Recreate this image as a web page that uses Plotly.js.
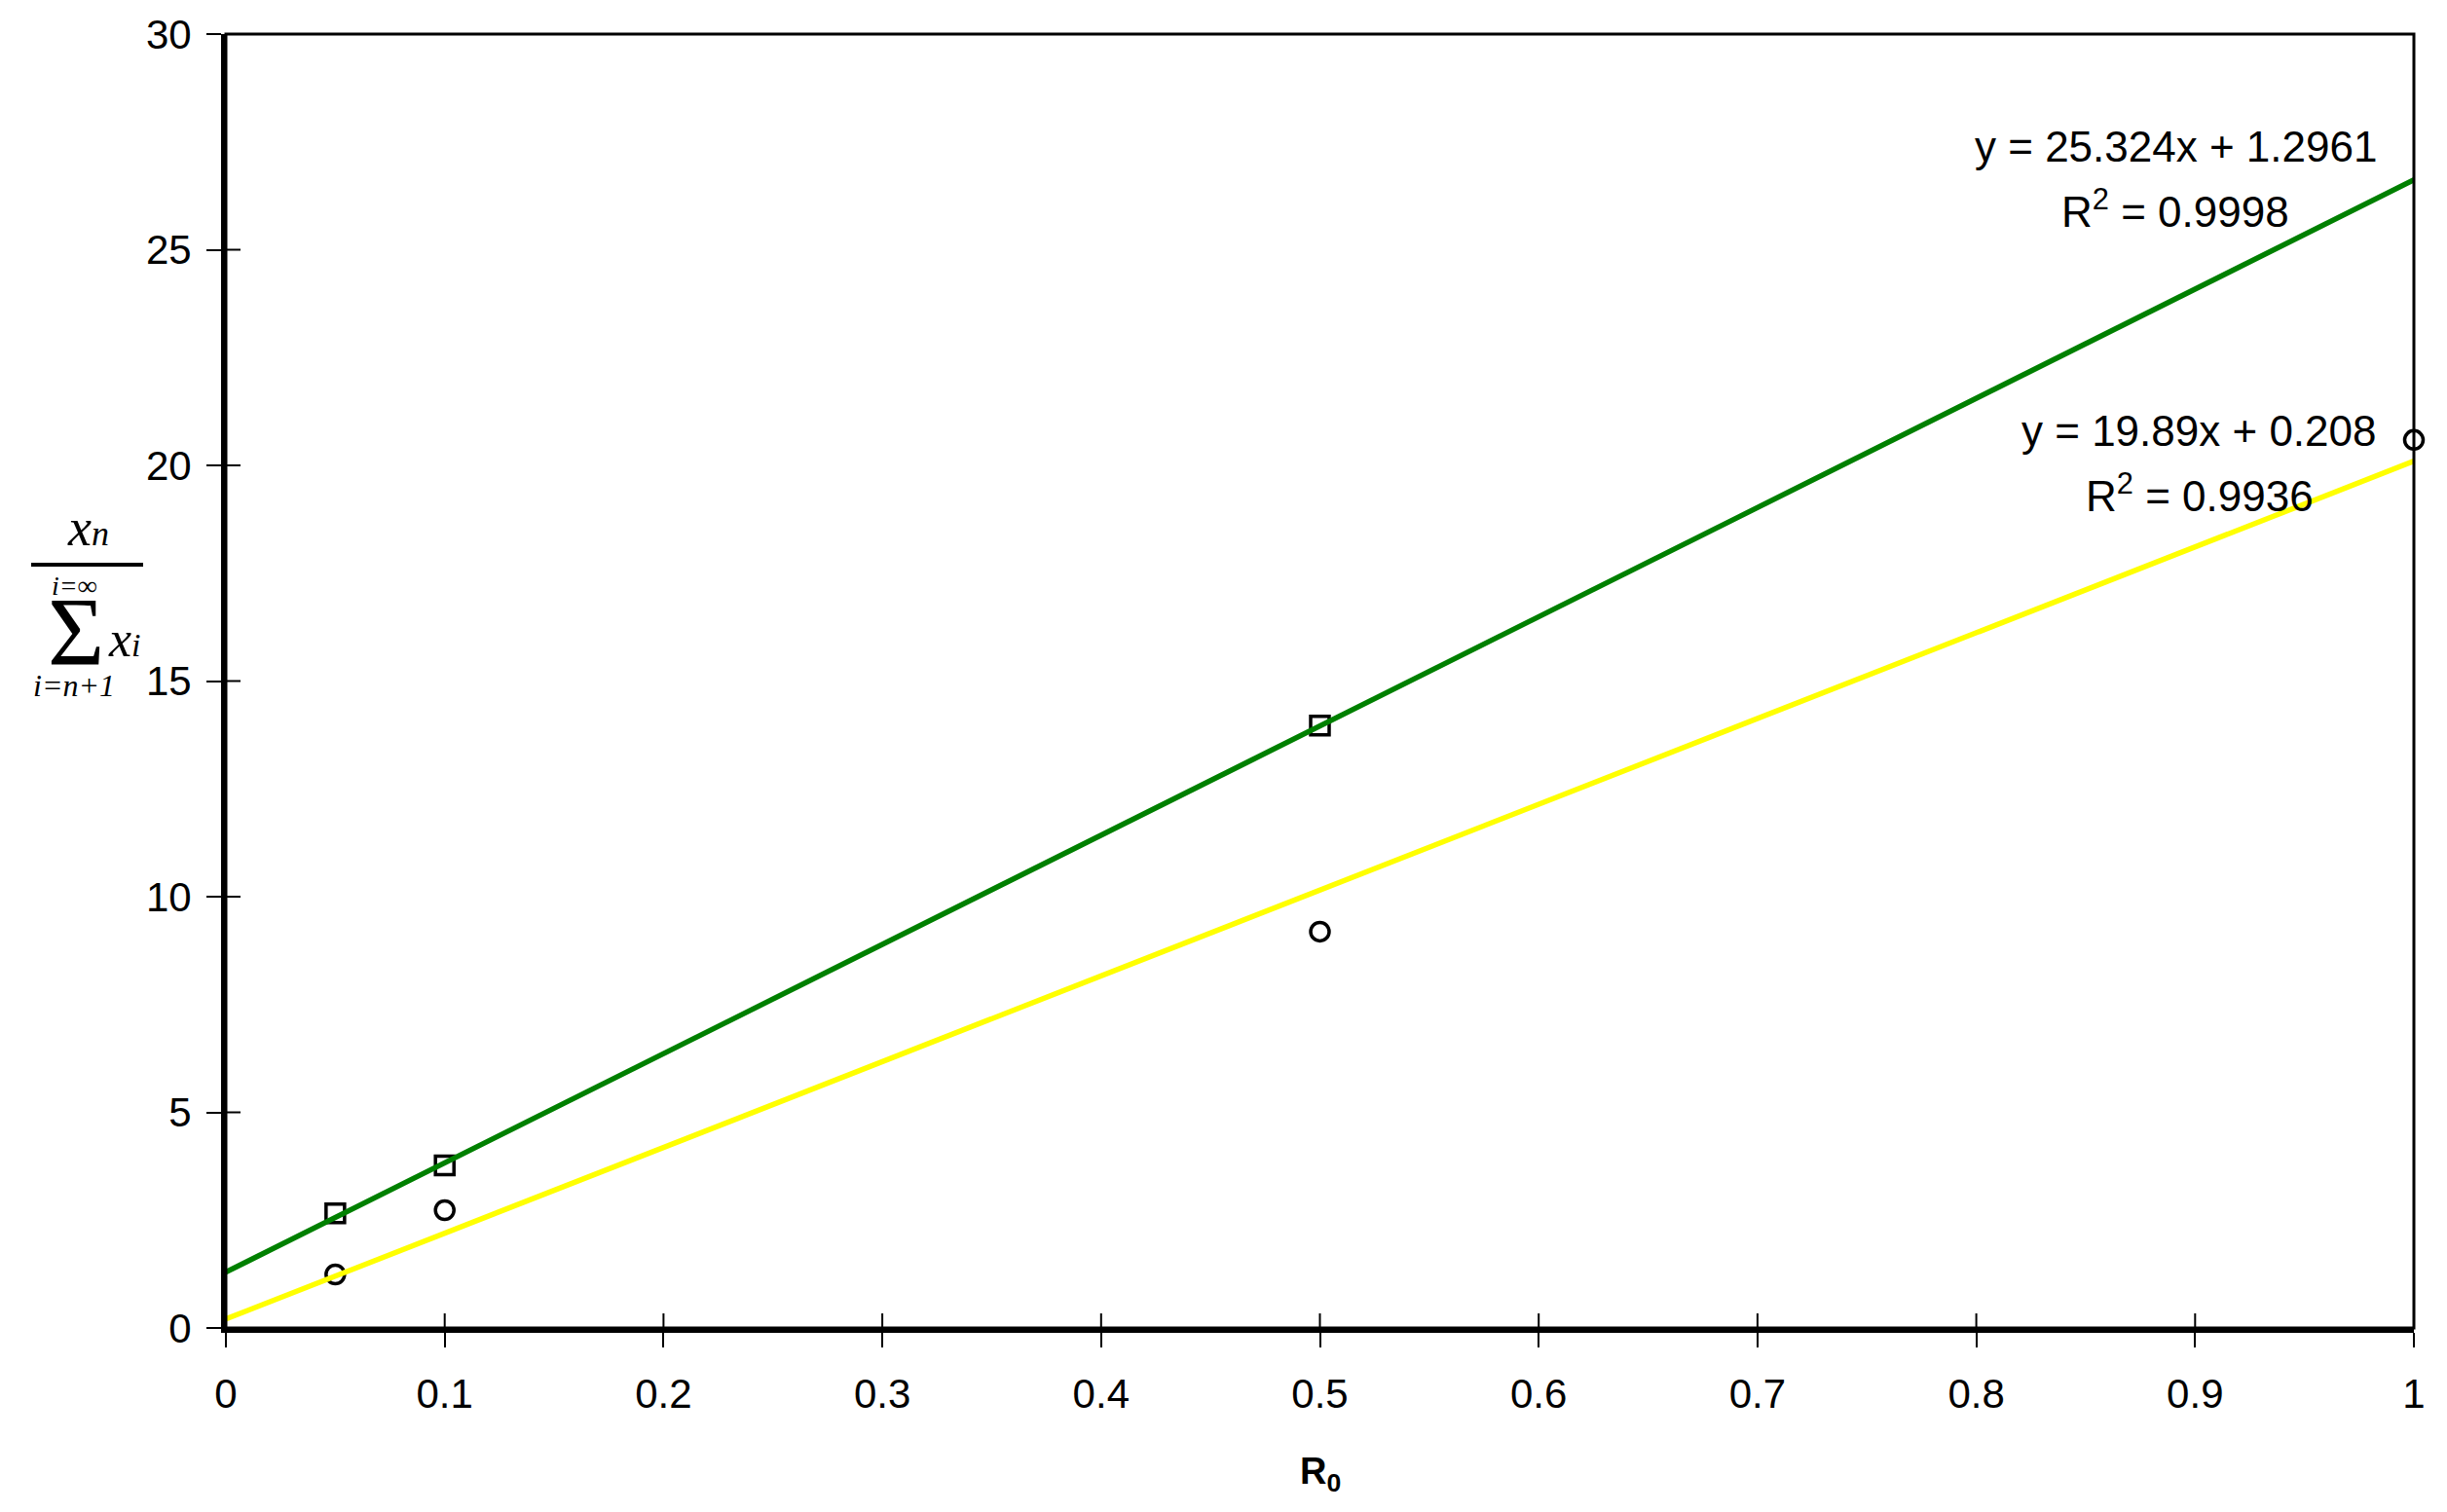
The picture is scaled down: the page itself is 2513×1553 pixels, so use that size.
<!DOCTYPE html>
<html>
<head>
<meta charset="utf-8">
<script src="https://cdn.plot.ly/plotly-3.0.1.min.js"></script>
<style>
  html, body { margin: 0; padding: 0; background: #fff; }
  #chart { width: 2513px; height: 1553px; }
</style>
</head>
<body>
<div id="chart"></div>
<script>
const r0Squares   = [0.05, 0.1, 0.5];
const squareVals  = [2.66, 3.77, 13.97];
const r0Circles   = [0.05, 0.1, 0.5, 1];
const circleVals  = [1.24, 2.73, 9.19, 20.59];

// trendlines as given by the equations on the chart
const fitX            = [0, 1];
const greenSlope      = 25.324;
const greenIntercept  = 1.2961;
const yellowSlope     = 19.89;
const yellowIntercept = 0.208;

const greenEq  = ["y = 25.324x + 1.2961", "R<sup>2</sup> = 0.9998"];
const yellowEq = ["y = 19.89x + 0.208", "R<sup>2</sup> = 0.9936"];

const xTicks = [0, 0.1, 0.2, 0.3, 0.4, 0.5, 0.6, 0.7, 0.8, 0.9, 1];
const yTicks = [0, 5, 10, 15, 20, 25, 30];

const W = 2513, H = 1553;
const M = { l: 232, r: 34, t: 35, b: 189 };
const plotW = W - M.l - M.r, plotH = H - M.t - M.b;
const px = (x) => (x - M.l) / plotW;          // pixel -> paper x
const py = (y) => (H - M.b - y) / plotH;      // pixel -> paper y
const TICK = 15;

const SANS  = "Liberation Sans, Arial, sans-serif";
const SERIF = "Liberation Serif, Times New Roman, serif";

const traces = [
    {
        x: r0Squares, y: squareVals, type: "scatter", mode: "markers",
        marker: { symbol: "square-open", size: 19, color: "#000", line: { width: 3.5 } },
        cliponaxis: false, showlegend: false, hoverinfo: "skip",
    },
    {
        x: r0Circles, y: circleVals, type: "scatter", mode: "markers",
        marker: { symbol: "circle-open", size: 19, color: "#000", line: { width: 3.5 } },
        cliponaxis: false, showlegend: false, hoverinfo: "skip",
    },
    {
        x: fitX, y: fitX.map((x) => greenSlope * x + greenIntercept),
        type: "scatter", mode: "lines",
        line: { color: "#008000", width: 5.5 },
        showlegend: false, hoverinfo: "skip",
    },
    {
        x: fitX, y: fitX.map((x) => yellowSlope * x + yellowIntercept),
        type: "scatter", mode: "lines",
        line: { color: "#ffff00", width: 5.5 },
        showlegend: false, hoverinfo: "skip",
    },
];

const tickFont = { family: SANS, size: 42, color: "#000" };

const axisCommon = {
    showgrid: false, zeroline: false,
    showline: true, linecolor: "#000", linewidth: 5,
    ticks: "outside", ticklen: TICK, tickwidth: 2, tickcolor: "#000",
    tickmode: "array",
    tickfont: tickFont, fixedrange: true,
};

function note(text, x, y, size, opts = {}) {
    return Object.assign({
        xref: "paper", yref: "paper", x: px(x), y: py(y),
        xanchor: "center", yanchor: "middle", showarrow: false,
        text, font: { family: SERIF, size, color: "#000", style: "italic" },
    }, opts);
}

const annotations = [
    // equations
    { xref: "x", yref: "y", x: 0.891, y: 27.40, text: greenEq[0] },
    { xref: "x", yref: "y", x: 0.891, y: 25.94, text: greenEq[1] },
    { xref: "x", yref: "y", x: 0.902, y: 20.81, text: yellowEq[0] },
    { xref: "x", yref: "y", x: 0.902, y: 19.35, text: yellowEq[1] },
].map((a) => Object.assign(a, {
    showarrow: false, xanchor: "center", yanchor: "middle",
    font: { family: SANS, size: 44, color: "#000" },
}));

// x title
annotations.push({
    xref: "x", yref: "paper", x: 0.5, y: py(1514), xanchor: "center", yanchor: "middle",
    showarrow: false, text: "<b>R<sub>0</sub></b>",
    font: { family: SANS, size: 38, color: "#000" },
});

// y title: x_n over sum_{i=n+1}^{i=inf} x_i
annotations.push(
    note('x<span style="font-size:36px">n</span>', 90, 542, 54),
    note("i=∞", 76, 601, 28),
    note("Σ", 78, 648, 100, { font: { family: SERIF, size: 100, color: "#000" } }),
    note('x<span style="font-size:34px">i</span>', 128, 656, 52),
    note("i=n+1", 76, 704, 32),
);

// inner half of the crossing tick marks (Excel style)
const tickLine = { color: "#000", width: 2 };
const innerTicks = [
    ...xTicks.map((v) => ({
        type: "line", xref: "x", yref: "paper",
        x0: v, x1: v, y0: 0, y1: TICK / plotH, line: tickLine, layer: "above",
    })),
    ...yTicks.map((v) => ({
        type: "line", xref: "paper", yref: "y",
        x0: 0, x1: TICK / plotW, y0: v, y1: v, line: tickLine, layer: "above",
    })),
];

const layout = {
    width: W, height: H,
    margin: M,
    paper_bgcolor: "#fff", plot_bgcolor: "#fff",
    xaxis: Object.assign({}, axisCommon, { range: [0, 1], tickvals: xTicks, ticklabelstandoff: 12 }),
    yaxis: Object.assign({}, axisCommon, { range: [0, 30], tickvals: yTicks, ticklabelstandoff: 7 }),
    shapes: [
        ...innerTicks,
        { type: "rect", xref: "paper", yref: "paper", x0: 0, x1: 1, y0: 0, y1: 1,
          line: { color: "#000", width: 3 }, layer: "above" },
        { type: "line", xref: "paper", yref: "paper", x0: px(32), x1: px(147), y0: py(580), y1: py(580),
          line: { color: "#000", width: 4 } },
    ],
    annotations,
    showlegend: false,
};

Plotly.newPlot("chart", traces, layout, { displayModeBar: false, staticPlot: true });
</script>
</body>
</html>
